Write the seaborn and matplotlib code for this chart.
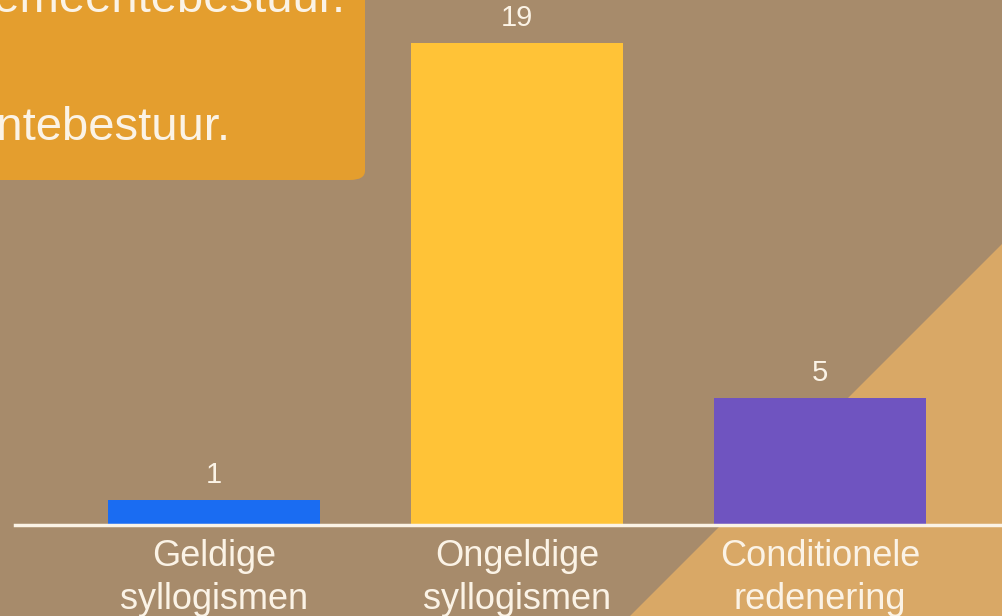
import matplotlib
matplotlib.use("Agg")
import matplotlib.pyplot as plt
import seaborn as sns
import pandas as pd
from matplotlib.patches import Polygon, FancyBboxPatch

# data
categories = ["Geldige\nsyllogismen", "Ongeldige\nsyllogismen", "Conditionele\nredenering"]
counts = [1, 19, 5]
bar_colors = ["#1a6cf2", "#ffc337", "#6f54c0"]
box_lines = ["gemeentebestuur.", "gemeentebestuur."]

bg = "#a78b6b"
tri = "#d9a866"
box = "#e49e2e"
txt = "#fbf3e6"

W, H = 1003, 616
df = pd.DataFrame({"cat": categories, "n": counts})

sns.set_theme(style="white")
plt.rcParams["font.family"] = ["Liberation Sans", "DejaVu Sans"]

fig = plt.figure(figsize=(W / 100, H / 100), dpi=100)
fig.patch.set_facecolor(bg)

# light triangle at the lower right
fig.patches.append(Polygon([(630 / W, 0), (1, 0), (1, (H - 243) / H)],
                           closed=True, transform=fig.transFigure,
                           facecolor=tri, edgecolor="none", zorder=0))

# orange text box, cut off at the top left
fig.patches.append(FancyBboxPatch((-20 / W, (H - 180) / H), 385 / W, 220 / H,
                                  boxstyle="round,pad=0,rounding_size=0.015",
                                  transform=fig.transFigure,
                                  facecolor=box, edgecolor="none", zorder=0))
fig.text(345 / W, (H - 12) / H, box_lines[0], ha="right", va="baseline",
         fontsize=34, color=txt)
fig.text(230 / W, (H - 140) / H, box_lines[1], ha="right", va="baseline",
         fontsize=34, color=txt)

# axes: category spacing 303 px, first center at x=214, baseline y=525
step = 303
left_px, base_px = 15, 525
ax = fig.add_axes([left_px / W, (H - base_px) / H, (W - left_px) / W, base_px / H])
ax.set_zorder(2)
ax.set_facecolor("none")
ax.set_ylim(0, base_px / (482 / 19))

sns.barplot(data=df, x="cat", y="n", hue="cat", palette=bar_colors,
            width=212 / step, saturation=1, legend=False, linewidth=0, ax=ax)
ax.set_xlim((left_px - 214) / step, (W - 214) / step)

for c in ax.containers:
    ax.bar_label(c, padding=8, fontsize=21, color=txt)

sns.despine(ax=ax, left=True, top=True, right=True)
ax.spines["bottom"].set_color(txt)
ax.spines["bottom"].set_linewidth(2.5)
ax.set_yticks([])
ax.set_xlabel("")
ax.set_ylabel("")
ax.tick_params(axis="x", length=0, pad=10, labelsize=26, labelcolor=txt)
for lbl in ax.get_xticklabels():
    lbl.set_linespacing(1.3)

fig.savefig("out.png", dpi=100, facecolor=bg)
